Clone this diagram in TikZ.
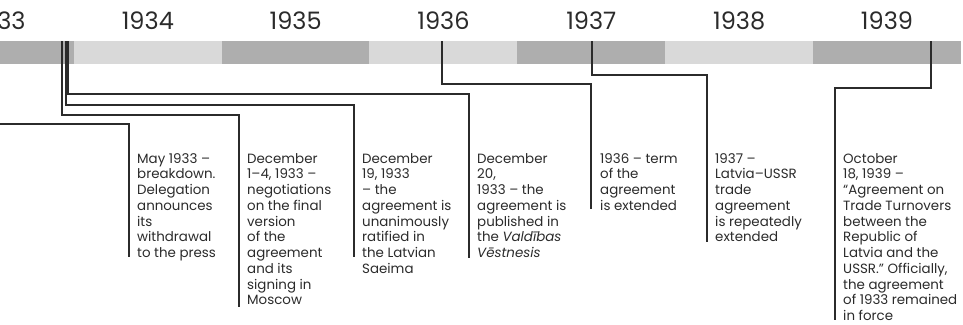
\documentclass[tikz,border=0pt]{standalone}
\usepackage{fontspec}
\setmainfont{Poppins}
\definecolor{banddark}{HTML}{AEAEAE}
\definecolor{bandlight}{HTML}{D9D9D9}
\definecolor{ink}{HTML}{2B2B2B}
\begin{document}
\begin{tikzpicture}[x=1pt,y=-1pt,
  yearlbl/.style={font=\fontsize{24}{26}\selectfont, text=ink, inner sep=0, anchor=base},
  lead/.style={draw=ink, line width=1.3pt},
  note/.style={font=\fontsize{13.4}{15.75}\selectfont, text=ink, align=left, inner sep=0, anchor=north west},
]
\clip (0,0) rectangle (963,324);
\fill[white] (0,0) rectangle (963,324);

% alternating year bands and year labels
\foreach \i in {0,...,6}{
  \pgfmathsetmacro{\xl}{-74+147.83*\i}
  \pgfmathsetmacro{\xc}{147.83*\i}
  \pgfmathtruncatemacro{\yr}{1933+\i}
  \ifodd\i
    \fill[bandlight] (\xl,41) rectangle ++(147.83,23);
  \else
    \fill[banddark] (\xl,41) rectangle ++(147.83,23);
  \fi
  \node[yearlbl] (y\yr) at (\xc,29) {\yr};
}

% event notes
\node[note] (nmay) at (137,153) {May 1933 –\\breakdown.\\Delegation\\announces\\its\\withdrawal\\to the press};
\node[note] (ndec1) at (247,153) {December\\1–4, 1933 –\\negotiations\\on the final\\version\\of the\\agreement\\and its\\signing in\\Moscow};
\node[note] (ndec19) at (362,153) {December\\19, 1933\\– the\\agreement is\\unanimously\\ratified in\\the Latvian\\Saeima};
\node[note] (ndec20) at (477,153) {December\\20,\\1933 – the\\agreement is\\published in\\the \textit{Valdības}\\\textit{Vēstnesis}};
\node[note] (n36) at (600,153) {1936 – term\\of the\\agreement\\is extended};
\node[note] (n37) at (715,153) {1937 –\\Latvia–USSR\\trade\\agreement\\is repeatedly\\extended};
\node[note] (n39) at (843,153) {October\\18, 1939 –\\“Agreement on\\Trade Turnovers\\between the\\Republic of\\Latvia and the\\USSR.” Officially,\\the agreement\\of 1933 remained\\in force};

% points on the band where the leader lines start
\coordinate (smay) at (-5,124);
\coordinate (sdec1) at (62,41);
\coordinate (sdec19) at (66,41);
\coordinate (sdec20) at (68,41);
\coordinate (s36) at (442,41);
\coordinate (s37) at (592,41);
\coordinate (s39) at (931,41);

% leader lines
\draw[lead] (smay) -| (129,257);
\draw[lead] (sdec1) |- (239,115) -- (239,307);
\draw[lead] (sdec19) |- (354,105) -- (354,257);
\draw[lead] (sdec20) |- (469,94) -- (469,258);
\draw[lead] (s36) |- (591,84) -- (591,209);
\draw[lead] (s37) |- (707,75) -- (707,242);
\draw[lead] (s39) |- (835,88) -- (835,320);
\end{tikzpicture}
\end{document}
